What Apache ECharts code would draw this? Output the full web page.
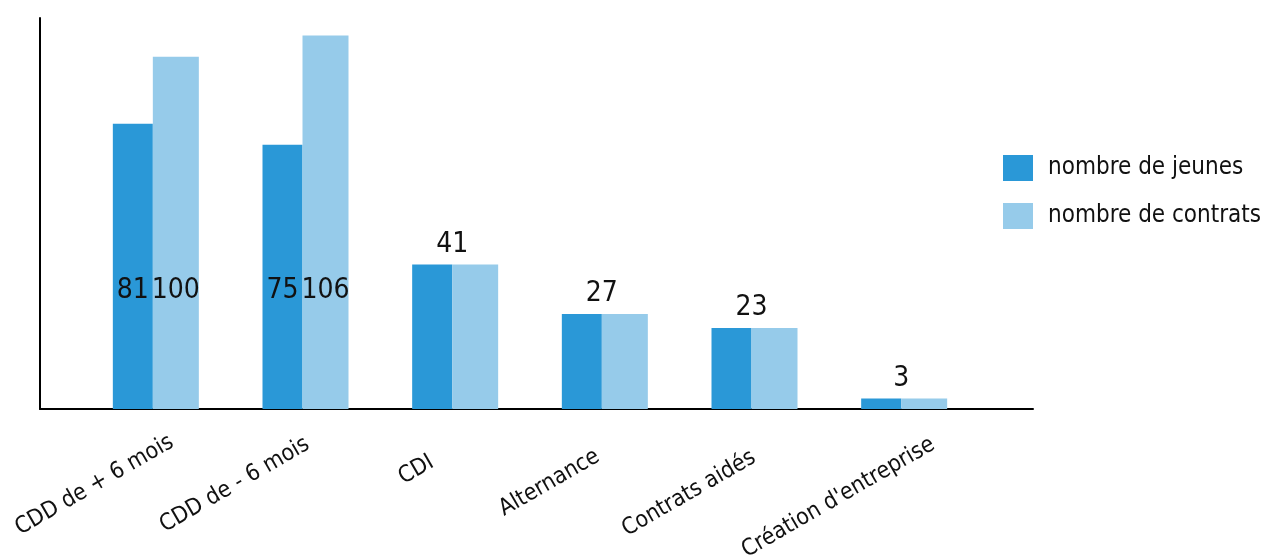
<!DOCTYPE html>
<html>
<head>
<meta charset="utf-8">
<script src="https://cdn.jsdelivr.net/npm/echarts@6/dist/echarts.min.js"></script>
<style>
html,body{margin:0;padding:0;background:#fff;}
#chart{width:1268px;height:557px;}
</style>
</head>
<body>
<div id="chart"></div>
<script>
const categories = ['CDD de + 6 mois', 'CDD de - 6 mois', 'CDI', 'Alternance', 'Contrats aidés', "Création d'entreprise"];
const jeunes = [81, 75, 41, 27, 23, 3];
const contrats = [100, 106, 41, 27, 23, 3];
const seriesNames = ['nombre de jeunes', 'nombre de contrats'];

const FONT = "'Liberation Sans Narrow', 'DejaVu Sans Condensed', 'Roboto', sans-serif";
const DARK = '#2a98d7';
const LIGHT = '#96cbea';
const AXIS_LABEL_SIZE = 23;

// layout only: nudges of the rotated category labels (px along the text / across it)
const labelAlongShift = [19, 6, -25, -8, -3, 29];
const labelAcrossShift = [-1, -6, -3, 0, 4, 7.5];

const labelFont = { fontFamily: FONT, fontSize: 28, color: '#111' };

function jeunesData() {
  return jeunes.map((v, i) => {
    const differs = v !== contrats[i];
    return {
      value: v,
      label: differs
        ? { show: true, position: 'insideBottom', distance: 104, ...labelFont }
        : { show: false }
    };
  });
}
function contratsData() {
  return contrats.map((v, i) => {
    const differs = v !== jeunes[i];
    return {
      value: v,
      label: differs
        ? { show: true, position: 'insideBottom', distance: 104, ...labelFont }
        : { show: true, position: 'top', distance: 6, offset: [-23, 0], ...labelFont }
    };
  });
}

// rich styles for each category label: width controls the shift along the text,
// vertical padding the shift across it
const measureCtx = document.createElement('canvas').getContext('2d');
measureCtx.font = AXIS_LABEL_SIZE + 'px ' + FONT;
const richStyles = {};
categories.forEach((c, i) => {
  const w = measureCtx.measureText(c).width;
  const across = labelAcrossShift[i];
  richStyles['c' + i] = {
    fontFamily: FONT,
    fontSize: AXIS_LABEL_SIZE,
    color: '#111',
    width: Math.max(1, w - labelAlongShift[i]),
    align: 'left',
    padding: across >= 0 ? [2 * across, 0, 0, 0] : [0, 0, -2 * across, 0]
  };
});

const chart = echarts.init(document.getElementById('chart'), null, { renderer: 'canvas' });
chart.setOption({
  animation: false,
  backgroundColor: '#fff',
  legend: {
    orient: 'vertical',
    left: 998,
    top: 150,
    itemWidth: 30,
    itemHeight: 26,
    itemGap: 22,
    icon: 'rect',
    data: seriesNames,
    textStyle: { fontFamily: FONT, fontSize: 24, color: '#111', padding: [0, 0, 0, 10] }
  },
  grid: [
    { left: 81, right: 289, top: 18, bottom: 148, containLabel: false, outerBoundsMode: 'none' },
    { left: 40, right: 235, top: 18, bottom: 148, containLabel: false, outerBoundsMode: 'none' }
  ],
  xAxis: [
    {
      type: 'category',
      gridIndex: 0,
      data: categories,
      axisLine: { show: false },
      axisTick: { show: false },
      axisLabel: {
        interval: 0,
        rotate: 30,
        margin: 42,
        hideOverlap: false,
        fontFamily: FONT,
        fontSize: AXIS_LABEL_SIZE,
        color: '#111',
        formatter: (value, index) => '{c' + index + '|' + value + '}',
        rich: richStyles
      }
    },
    {
      type: 'value',
      gridIndex: 1,
      min: 0, max: 1,
      axisLine: { show: true, onZero: false, lineStyle: { color: '#000', width: 2 } },
      axisTick: { show: false },
      axisLabel: { show: false },
      splitLine: { show: false }
    }
  ],
  yAxis: [
    {
      type: 'value',
      gridIndex: 0,
      min: 0,
      max: 111,
      axisLine: { show: false },
      axisTick: { show: false },
      axisLabel: { show: false },
      splitLine: { show: false }
    },
    {
      type: 'value',
      gridIndex: 1,
      min: 0, max: 1,
      axisLine: { show: true, onZero: false, lineStyle: { color: '#000', width: 2 } },
      axisTick: { show: false },
      axisLabel: { show: false },
      splitLine: { show: false }
    }
  ],
  series: [
    {
      name: seriesNames[0],
      type: 'bar',
      xAxisIndex: 0, yAxisIndex: 0,
      barWidth: 40,
      barGap: '0%',
      itemStyle: { color: DARK },
      data: jeunesData()
    },
    {
      name: seriesNames[1],
      type: 'bar',
      xAxisIndex: 0, yAxisIndex: 0,
      barWidth: 46,
      barGap: '0%',
      itemStyle: { color: LIGHT },
      data: contratsData()
    }
  ]
});
</script>
</body>
</html>
